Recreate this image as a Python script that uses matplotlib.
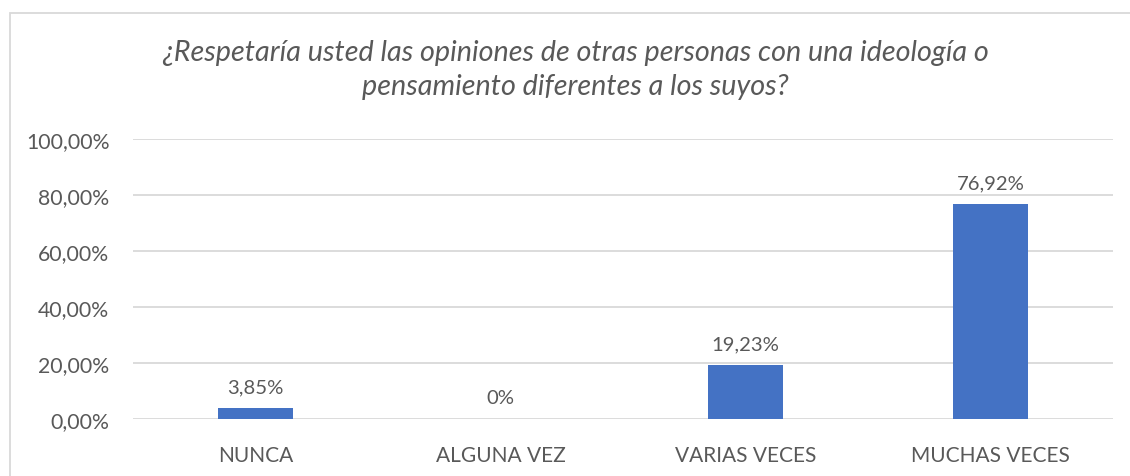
import matplotlib
matplotlib.use("Agg")
import matplotlib.pyplot as plt
from matplotlib.patches import Rectangle

categories = ["NUNCA", "ALGUNA VEZ", "VARIAS VECES", "MUCHAS VECES"]
values = [3.85, 0.0, 19.23, 76.92]
value_labels = ["3,85%", "0%", "19,23%", "76,92%"]
yticks = [0, 20, 40, 60, 80, 100]
ytick_labels = ["0,00%", "20,00%", "40,00%", "60,00%", "80,00%", "100,00%"]
title = "¿Respetaría usted las opiniones de otras personas con una ideología o\npensamiento diferentes a los suyos?"

W, H = 1130, 477
fig = plt.figure(figsize=(W / 100, H / 100), dpi=100)
plt.rcParams['font.family'] = ['Lato', 'DejaVu Sans']
txt = "#595959"

# outer chart border (visible left/top)
fig.patches.append(Rectangle((10 / W, -0.1), 1.2, (H - 14) / H + 0.1, transform=fig.transFigure,
                             fill=False, edgecolor="#d9d9d9", linewidth=1.3))

ax = fig.add_axes([133 / W, 1 - 420 / H, (1113 - 133) / W, 280 / H])
x = list(range(len(categories)))
ax.bar(x, values, width=0.31, color="#4472C4", zorder=3)
ax.set_xlim(-0.5, len(categories) - 0.5)
ax.set_ylim(0, 100)
ax.set_yticks(yticks)
ax.set_yticklabels(ytick_labels)
ax.set_xticks(x)
ax.set_xticklabels(categories)
ax.tick_params(axis="y", length=0, labelsize=15.3, colors=txt, pad=17)
ax.tick_params(axis="x", length=0, labelsize=15, colors=txt, pad=19)
ax.grid(axis="y", color="#d9d9d9", linewidth=1.3, zorder=0)
for s in ax.spines.values():
    s.set_visible(False)
for xi, v, lab in zip(x, values, value_labels):
    ax.annotate(lab, (xi, v), xytext=(0, 9), textcoords="offset points",
                ha="center", va="bottom", fontsize=14.6, color=txt)

fig.text(575 / W, 1 - 70 / H, title, ha="center", va="center", fontsize=20.7,
         style="italic", color=txt, linespacing=1.38)

fig.savefig("out.png", dpi=100)
